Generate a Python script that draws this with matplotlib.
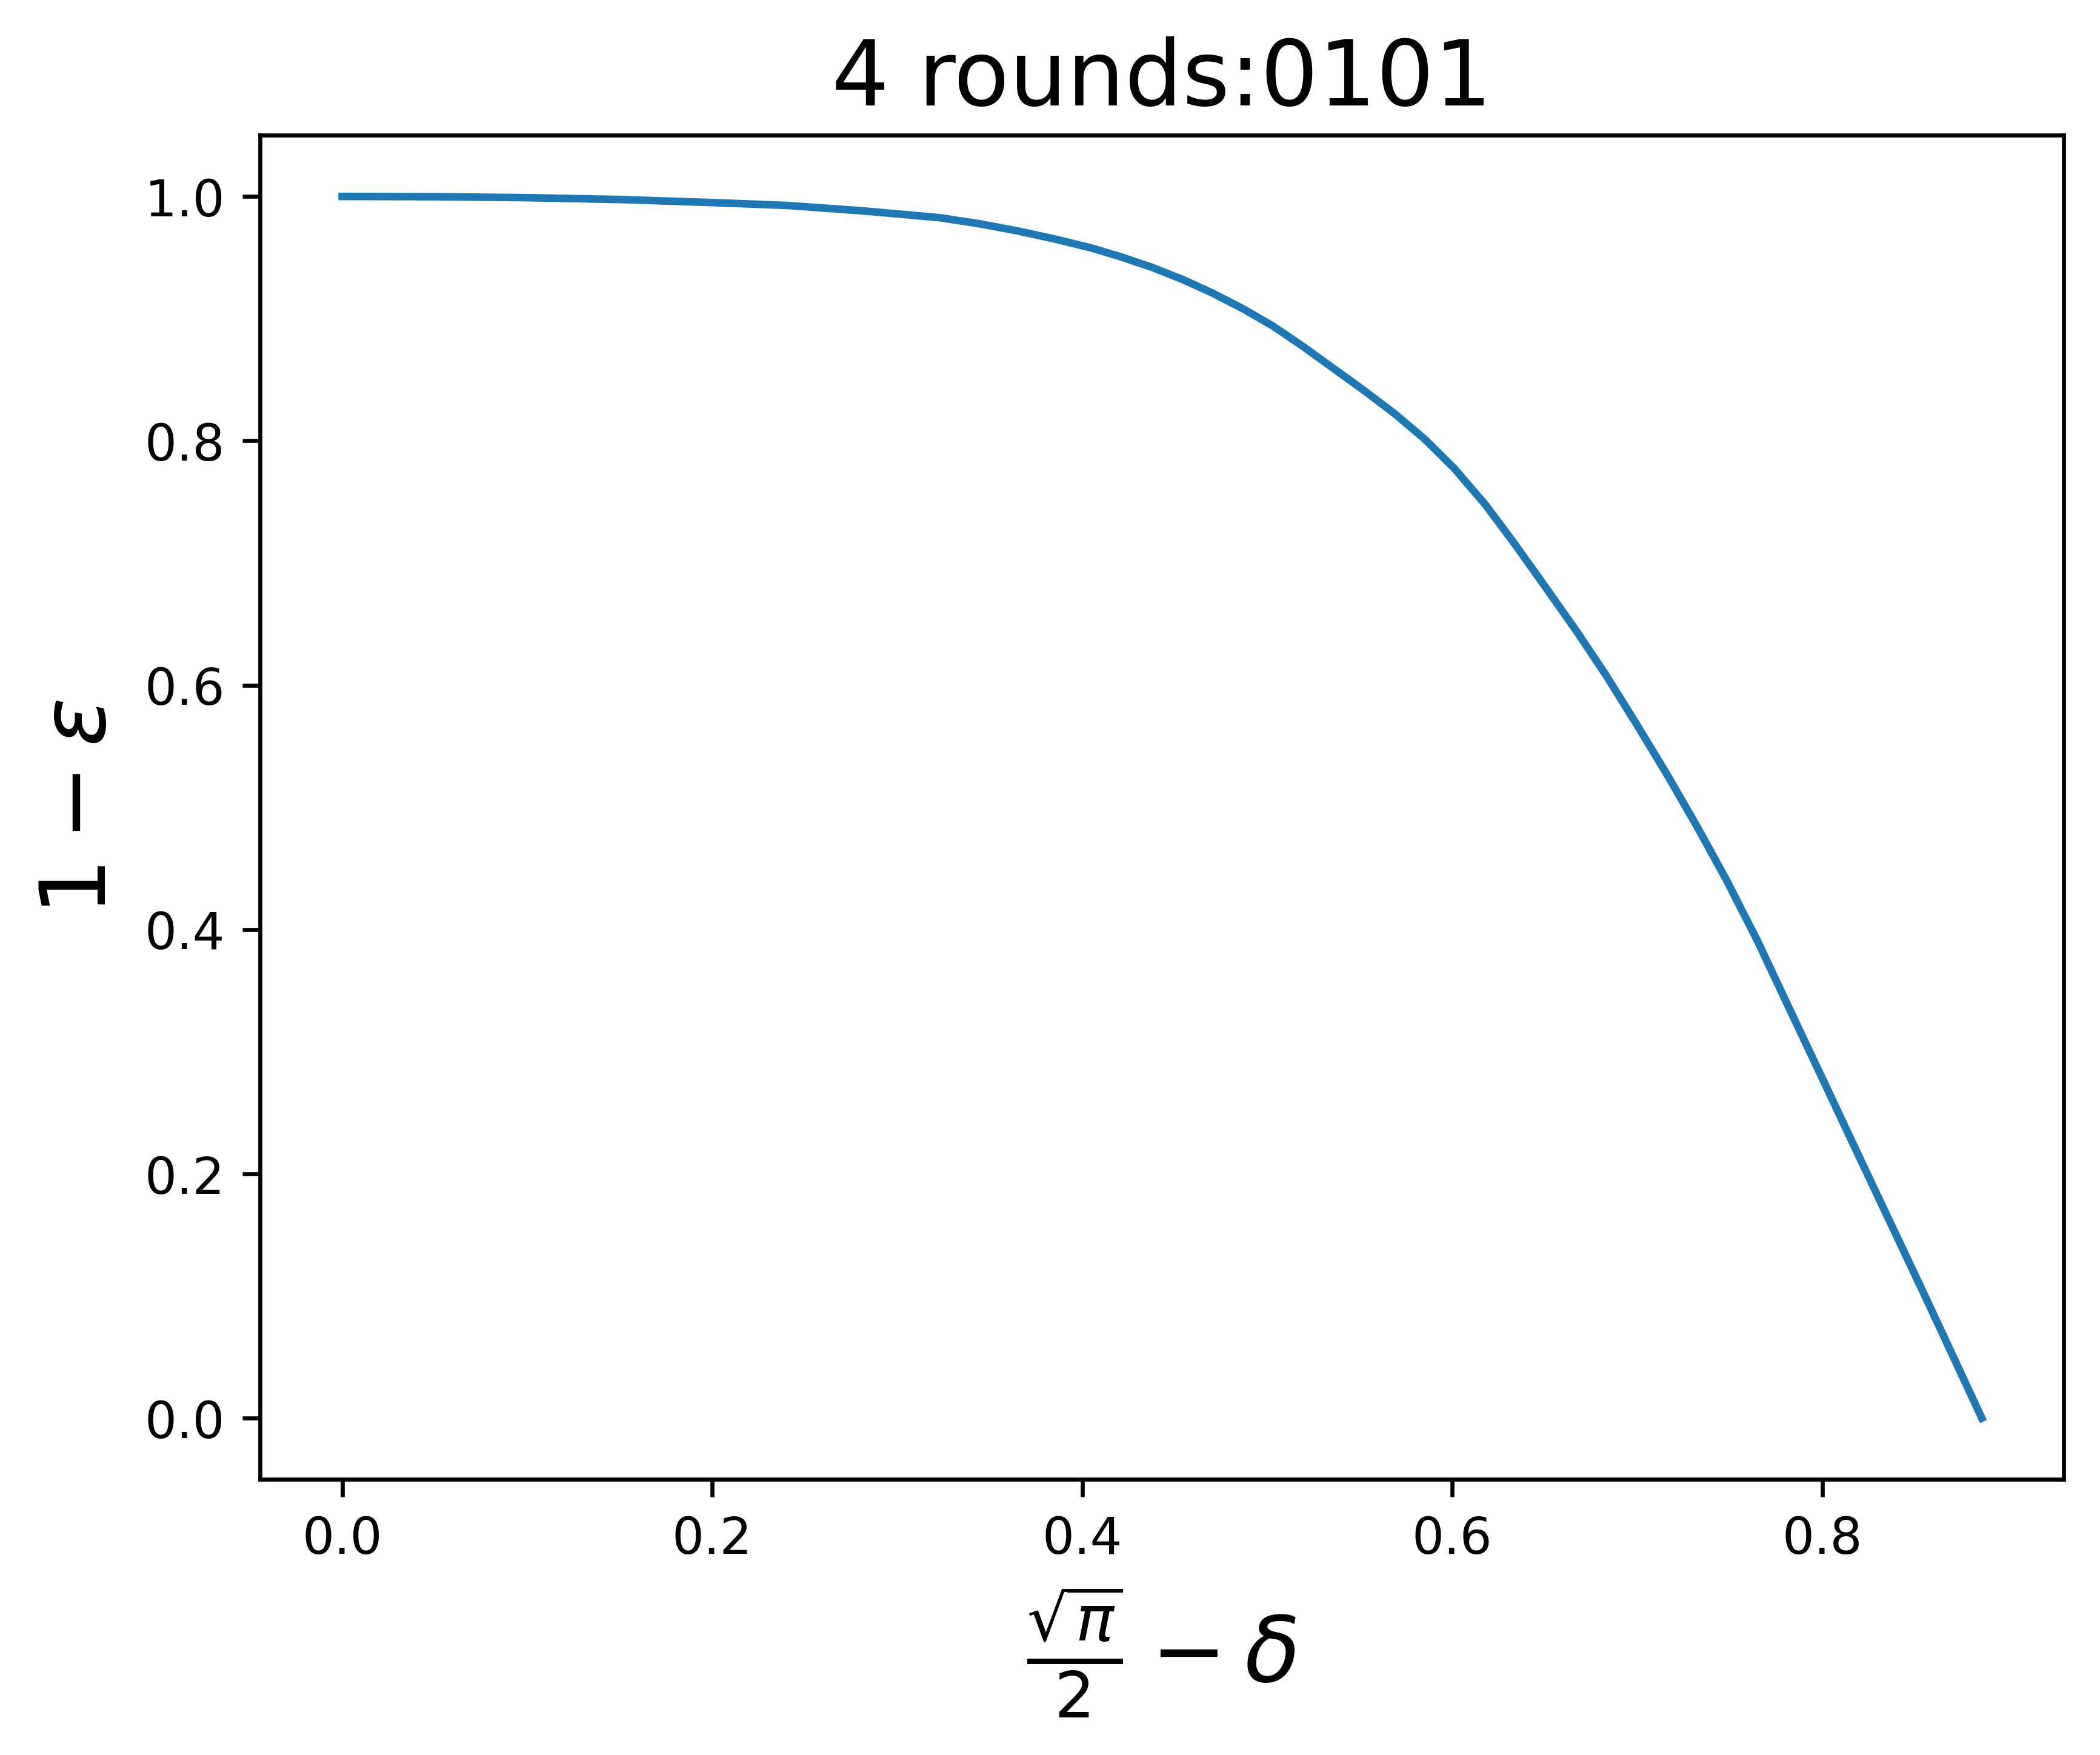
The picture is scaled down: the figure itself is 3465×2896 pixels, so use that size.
import matplotlib
matplotlib.use("Agg")
import matplotlib.pyplot as plt

# Values
x_vals = [0.0, 0.05, 0.10, 0.15, 0.20, 0.241, 0.283, 0.323, 0.345, 0.365,
          0.385, 0.405, 0.421, 0.438, 0.454, 0.470, 0.487, 0.503, 0.520,
          0.536, 0.552, 0.569, 0.585, 0.601, 0.618, 0.634, 0.650, 0.667,
          0.683, 0.700, 0.716, 0.732, 0.748, 0.765, 0.781, 0.798, 0.821,
          0.838, 0.855, 0.871, 0.8862]
y_vals = [1.0, 0.9998, 0.999, 0.9975, 0.995, 0.9926, 0.988, 0.9826, 0.9775, 0.9718,
          0.9652, 0.9578, 0.9505, 0.9418, 0.9322, 0.9212, 0.908, 0.894, 0.8765,
          0.859, 0.8415, 0.822, 0.8015, 0.7775, 0.7475, 0.715, 0.681, 0.6445,
          0.6083, 0.567, 0.527, 0.485, 0.441, 0.3905, 0.339, 0.2845, 0.2105,
          0.156, 0.1015, 0.0495, 0.0]

title = "4 rounds:0101"
xlabel = r"$\frac{\sqrt{\pi}}{2}-\delta$"
ylabel = r"$1-\varepsilon$"

fig, ax = plt.subplots(figsize=(6.4, 4.8))
ax.plot(x_vals, y_vals)
ax.set_title(title, fontsize=18)
ax.set_xlabel(xlabel, fontsize=18)
ax.set_ylabel(ylabel, fontsize=18)
fig.savefig("out.png", dpi=600, bbox_inches="tight")
